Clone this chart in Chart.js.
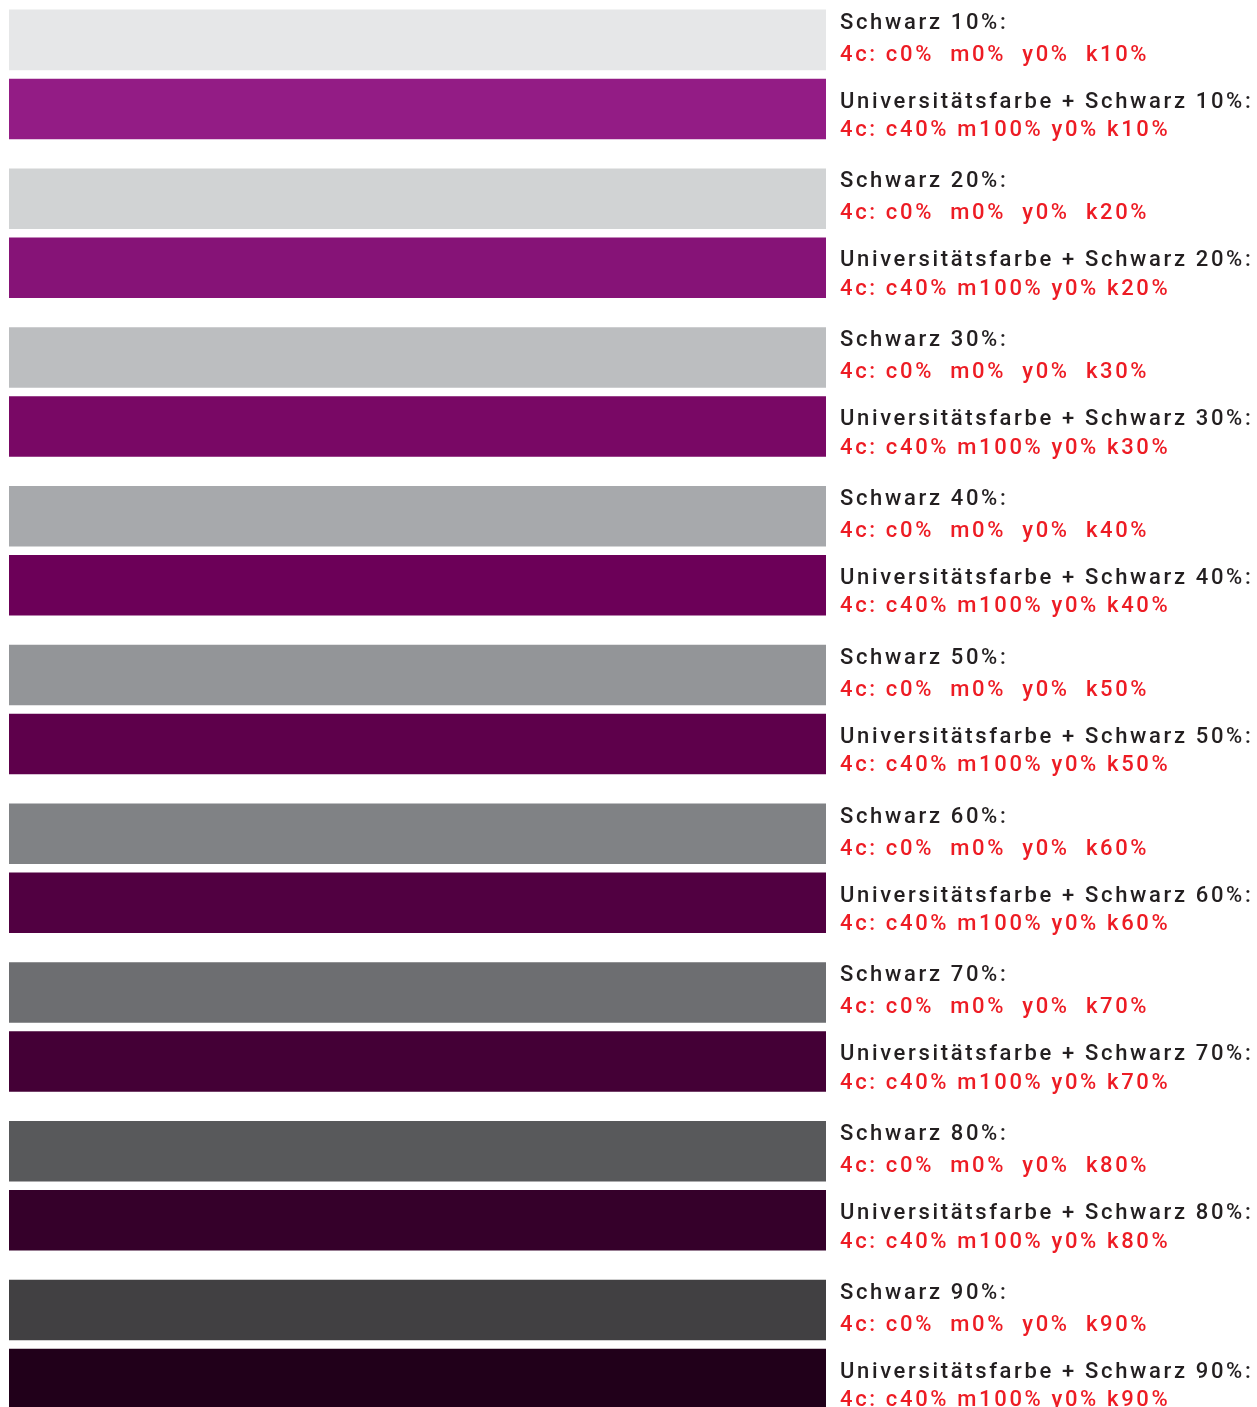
<!DOCTYPE html>
<html>
<head>
<meta charset="utf-8">
<script src="https://cdn.jsdelivr.net/npm/chart.js@4"></script>
<style>
    html, body { margin: 0; padding: 0; background: #ffffff; overflow: hidden; }
    #farbChart { position: absolute; left: 0; top: -5px; }
</style>
</head>
<body>
<canvas id="farbChart" width="1257" height="1429"></canvas>
<script>
// Schwarz-Stufen (Kategorien)
var schwarzStufen = [10, 20, 30, 40, 50, 60, 70, 80, 90];
// Balkenlaenge je Reihe (volle Breite)
var grauWerte = [100, 100, 100, 100, 100, 100, 100, 100, 100];
var lilaWerte = [100, 100, 100, 100, 100, 100, 100, 100, 100];
// Farben
var grauFarben = ['#E6E7E8', '#D1D3D4', '#BCBEC0', '#A7A9AC', '#939598', '#808285', '#6D6E71', '#58595B', '#414042'];
var lilaFarben = ['#931C85', '#861377', '#790865', '#6C0058', '#5E004B', '#510041', '#440036', '#35002A', '#21001A'];

var nombre = [];
var grauText = [];
var grauCode = [];
var lilaText = [];
var lilaCode = [];
for (var i in schwarzStufen) {
    var k = schwarzStufen[i];
    nombre.push('k' + k);
    grauText.push('Schwarz ' + k + '%:');
    grauCode.push('4c: c0%  m0%  y0%  k' + k + '%');
    lilaText.push('Universitätsfarbe + Schwarz ' + k + '%:');
    lilaCode.push('4c: c40% m100% y0% k' + k + '%');
}

// Beschriftung rechts neben jedem Balken
var beschriftung = {
    id: 'beschriftung',
    afterDatasetsDraw: function(chart) {
        var ctx = chart.ctx;
        var x = chart.chartArea.right + 14;
        ctx.save();
        ctx.font = '500 22px Roboto';
        ctx.letterSpacing = '2.65px';
        ctx.textAlign = 'left';
        ctx.textBaseline = 'middle';
        var texte = [[grauText, grauCode, 13.5, 45.5], [lilaText, lilaCode, 23.5, 52]];
        for (var d = 0; d < 2; d++) {
            var meta = chart.getDatasetMeta(d);
            meta.data.forEach(function(bar, j) {
                var top = bar.y - bar.height / 2;
                ctx.fillStyle = '#231F20';
                ctx.fillText(texte[d][0][j], x, top + texte[d][2]);
                ctx.fillStyle = '#ED1C24';
                ctx.fillText(texte[d][1][j], x, top + texte[d][3]);
            });
        }
        ctx.restore();
    }
};

var chartdata = {
    labels: nombre,
    datasets: [{
        label: 'Schwarz',
        data: grauWerte,
        backgroundColor: grauFarben,
        borderWidth: 0,
        categoryPercentage: 0.8693,
        barPercentage: 0.877
    }, {
        label: 'Universitätsfarbe + Schwarz',
        data: lilaWerte,
        backgroundColor: lilaFarben,
        borderWidth: 0,
        categoryPercentage: 0.8693,
        barPercentage: 0.877
    }]
};

var grafico = new Chart(document.getElementById('farbChart'), {
    type: 'bar',
    data: chartdata,
    plugins: [beschriftung],
    options: {
        indexAxis: 'y',
        responsive: false,
        animation: false,
        layout: {
            padding: { left: 9, right: 431, top: 0, bottom: 0 }
        },
        plugins: {
            legend: { display: false },
            tooltip: { enabled: false }
        },
        scales: {
            x: { display: false, min: 0, max: 100 },
            y: { display: false }
        }
    }
});
</script>
</body>
</html>
